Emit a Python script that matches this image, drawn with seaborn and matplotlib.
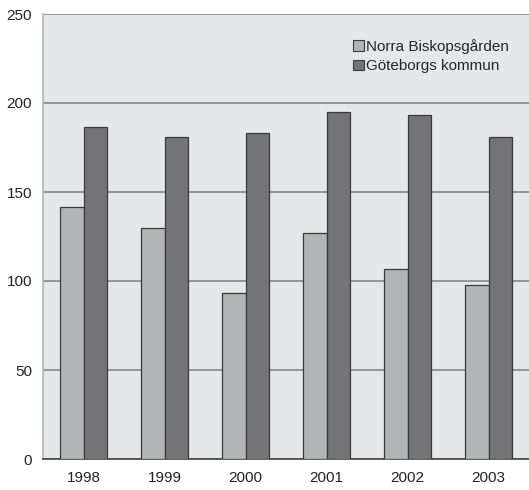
import matplotlib
matplotlib.use('Agg')
import matplotlib.pyplot as plt
import seaborn as sns
import pandas as pd

# Dados
anos = ['1998', '1999', '2000', '2001', '2002', '2003']
norra = [141.5, 130, 93.5, 127, 107, 98]
goteborg = [186.5, 181, 183, 195, 193.5, 181]
series = ['Norra Biskopsgården', 'Göteborgs kommun']

df = pd.DataFrame({
    'Ano': anos * 2,
    'Valor': norra + goteborg,
    'Serie': [series[0]] * len(anos) + [series[1]] * len(anos),
})

sns.set_style('white')
plt.rcParams['font.family'] = ['Liberation Sans', 'DejaVu Sans']

fig = plt.figure(figsize=(5.29, 4.90), dpi=100)
ax = fig.add_axes([43 / 529, 31 / 490, 486 / 529, 445 / 490])
ax.set_facecolor('#e6e7e9')

sns.barplot(data=df, x='Ano', y='Valor', hue='Serie', palette=['#b3b4b7', '#737478'],
            width=0.57, edgecolor='#3a3a3c', linewidth=0.9, ax=ax, zorder=3)

# Grade horizontal
ax.set_ylim(0, 250)
ax.set_yticks([0, 50, 100, 150, 200, 250])
ax.yaxis.grid(True, color='#7d7e80', linewidth=1.1, zorder=0)
ax.set_axisbelow(True)
ax.tick_params(axis='y', length=0, labelsize=11, pad=8, colors='#222222')

# Eixo X: marcas nas fronteiras, rótulos no centro
ax.set_xlim(-0.5, -0.5 + 486 / 82)
ax.set_xticks([i + 0.5 for i in range(6)])
ax.set_xticklabels([])
ax.set_xticks(range(6), minor=True)
ax.set_xticklabels(anos, minor=True)
ax.tick_params(axis='x', which='major', length=4, width=1, color='#444444', direction='out')
ax.tick_params(axis='x', which='minor', length=0, labelsize=11, pad=8.5, colors='#222222')

for s in ['top', 'right']:
    ax.spines[s].set_visible(False)
ax.spines['left'].set_color('#b5b6b8')
ax.spines['left'].set_linewidth(1.2)
ax.spines['bottom'].set_color('#444444')
ax.spines['bottom'].set_linewidth(1.2)
ax.set_xlabel('')
ax.set_ylabel('')

leg = ax.legend(loc='upper left', bbox_to_anchor=(353 / 529, 1 - 39 / 490),
                bbox_transform=fig.transFigure, frameon=False, fontsize=11,
                handlelength=0.7, handleheight=0.7, handletextpad=0.15,
                labelspacing=0.35, borderaxespad=0, borderpad=0)
for h in leg.legend_handles:
    h.set_edgecolor('#3a3a3c')
    h.set_linewidth(0.8)

fig.savefig('out.png', dpi=100)
